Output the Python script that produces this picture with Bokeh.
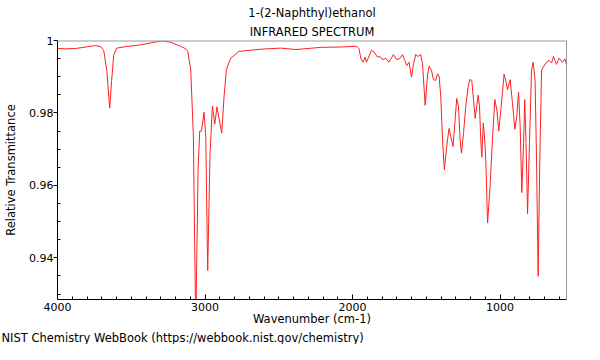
from bokeh.plotting import figure
from bokeh.models import Range1d, FixedTicker, Span, Title, PrintfTickFormatter
from bokeh.embed import file_html
from bokeh.resources import INLINE

# ---- data ----
wavenumber = [4000, 3944, 3877, 3809, 3741, 3707, 3687, 3666, 3646, 3633, 3619, 3599,
              3538, 3436, 3334, 3287, 3233, 3165, 3131, 3117, 3097, 3079, 3063, 3047,
              3036, 3024, 3007, 2995, 2982, 2966, 2950, 2934, 2919, 2900, 2887, 2871,
              2855, 2826, 2770, 2622, 2487, 2385, 2216, 2080, 1972, 1956, 1944, 1929,
              1915, 1906, 1872, 1854, 1831, 1814, 1797, 1775, 1753, 1723, 1700, 1678,
              1662, 1646, 1633, 1617, 1601, 1587, 1572, 1556, 1538, 1526, 1508, 1492,
              1481, 1465, 1452, 1436, 1424, 1413, 1402, 1390, 1378, 1361, 1346, 1334,
              1319, 1307, 1294, 1282, 1271, 1262, 1248, 1233, 1217, 1206, 1192, 1180,
              1169, 1158, 1149, 1140, 1131, 1124, 1114, 1104, 1097, 1085, 1068, 1052,
              1036, 1022, 1009, 995, 973, 959, 950, 932, 916, 900, 887, 875,
              864, 853, 841, 833, 824, 814, 801, 787, 776, 763, 753, 742,
              731, 719, 706, 690, 668, 651, 638, 618, 600, 577, 561, 550]
transmittance = [0.9978, 0.9977, 0.9978, 0.9982, 0.9986, 0.9983, 0.9973, 0.9918, 0.9814, 0.9890, 0.9959, 0.9979,
                 0.9983, 0.9988, 0.9996, 0.9999, 0.9995, 0.9984, 0.9977, 0.9970, 0.9920, 0.9736, 0.9200, 0.9645,
                 0.9750, 0.9750, 0.9802, 0.9736, 0.9365, 0.9690, 0.9819, 0.9769, 0.9817, 0.9773, 0.9744, 0.9846,
                 0.9920, 0.9951, 0.9970, 0.9976, 0.9979, 0.9975, 0.9981, 0.9982, 0.9984, 0.9977, 0.9950, 0.9940,
                 0.9954, 0.9940, 0.9973, 0.9968, 0.9954, 0.9956, 0.9947, 0.9951, 0.9940, 0.9961, 0.9947, 0.9951,
                 0.9961, 0.9945, 0.9931, 0.9940, 0.9899, 0.9936, 0.9961, 0.9956, 0.9961, 0.9936, 0.9821, 0.9904,
                 0.9929, 0.9918, 0.9892, 0.9890, 0.9908, 0.9900, 0.9844, 0.9725, 0.9643, 0.9711, 0.9757, 0.9734,
                 0.9707, 0.9771, 0.9840, 0.9817, 0.9725, 0.9689, 0.9744, 0.9817, 0.9872, 0.9892, 0.9890, 0.9835,
                 0.9785, 0.9821, 0.9849, 0.9821, 0.9725, 0.9678, 0.9772, 0.9725, 0.9670, 0.9496, 0.9597, 0.9725,
                 0.9837, 0.9808, 0.9750, 0.9808, 0.9907, 0.9885, 0.9864, 0.9892, 0.9826, 0.9755, 0.9791, 0.9858,
                 0.9762, 0.9580, 0.9716, 0.9837, 0.9716, 0.9522, 0.9716, 0.9918, 0.9940, 0.9890, 0.9670, 0.9349,
                 0.9670, 0.9918, 0.9927, 0.9938, 0.9945, 0.9938, 0.9956, 0.9934, 0.9951, 0.9940, 0.9949, 0.9934]

x_ticks = [4000, 3000, 2000, 1000]
x_minor_ticks = [3900, 3800, 3700, 3600, 3500, 3400, 3300, 3200, 3100,
                 2900, 2800, 2700, 2600, 2500, 2400, 2300, 2200, 2100,
                 1900, 1800, 1700, 1600, 1500, 1400, 1300, 1200, 1100,
                 900, 800, 700, 600]
y_ticks = [0.94, 0.96, 0.98, 1.0]
y_minor_ticks = [0.93, 0.935, 0.945, 0.95, 0.955, 0.965, 0.97, 0.975, 0.985, 0.99, 0.995]

title_top = "1-(2-Naphthyl)ethanol"
title_sub = "INFRARED SPECTRUM"
x_label = "Wavenumber (cm-1)"
y_label = "Relative Transmittance"
footer_text = "NIST Chemistry WebBook (https://webbook.nist.gov/chemistry)"

FONT = "DejaVu Sans"

p = figure(width=584, height=344, output_backend="svg", toolbar_location=None,
           x_range=Range1d(4000, 550), y_range=Range1d(0.9285, 1.0),
           min_border_left=57, min_border_right=18, min_border_top=40, min_border_bottom=0,
           x_axis_label=x_label, y_axis_label=y_label)

p.background_fill_color = "white"
p.border_fill_color = "white"
p.outline_line_color = None
p.xgrid.visible = False
p.ygrid.visible = False

p.line(wavenumber, transmittance, line_color="#ff2020", line_width=1)

# bottom axis
xa = p.xaxis[0]
xa.ticker = FixedTicker(ticks=x_ticks, minor_ticks=x_minor_ticks)
xa.major_tick_in = 5
xa.major_tick_out = 0
xa.minor_tick_in = 3
xa.minor_tick_out = 0
xa.major_label_standoff = 3
xa.axis_label_standoff = -2
xa.axis_line_color = "black"
xa.major_tick_line_color = "black"
xa.minor_tick_line_color = "black"
xa.major_label_text_font = FONT
xa.major_label_text_font_size = "11px"
xa.major_label_text_color = "black"
xa.axis_label_text_font = FONT
xa.axis_label_text_font_size = "11.5px"
xa.axis_label_text_font_style = "normal"
xa.axis_label_text_color = "black"

# left axis
ya = p.yaxis[0]
ya.ticker = FixedTicker(ticks=y_ticks, minor_ticks=y_minor_ticks)
ya.formatter = PrintfTickFormatter(format="%g")
ya.major_tick_in = 0
ya.major_tick_out = 4
ya.minor_tick_in = 3
ya.minor_tick_out = 0
ya.major_label_standoff = 0
ya.axis_label_standoff = 8
ya.axis_line_color = "black"
ya.major_tick_line_color = "black"
ya.minor_tick_line_color = "black"
ya.major_label_text_font = FONT
ya.major_label_text_font_size = "11px"
ya.major_label_text_color = "black"
ya.axis_label_text_font = FONT
ya.axis_label_text_font_size = "11.5px"
ya.axis_label_text_font_style = "normal"
ya.axis_label_text_color = "black"

# frame edges: grey top, dark right
p.add_layout(Span(location=p.y_range.end, dimension="width", line_color="#9a9a9a", line_width=2))
p.add_layout(Span(location=p.x_range.end, dimension="height", line_color="#333333", line_width=1))

# titles
p.title.text = title_top
p.title.align = "center"
p.title.text_font = FONT
p.title.text_font_size = "11.5px"
p.title.text_font_style = "normal"
p.title.text_color = "black"
p.title.standoff = 2

sub = Title(text=title_sub, align="center", text_font=FONT, text_font_size="11.5px",
            text_font_style="normal", text_color="black", standoff=4)
p.add_layout(sub, "above")

foot = Title(text=footer_text, align="left", text_font=FONT, text_font_size="11.5px",
             text_font_style="normal", text_color="black", standoff=0, offset=-56)
p.add_layout(foot, "below")

open("out.html", "w").write(file_html(p, INLINE))
